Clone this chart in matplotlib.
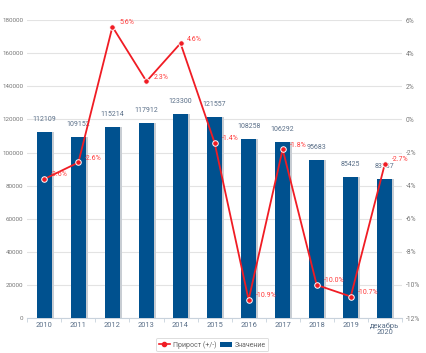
import numpy as np
import matplotlib
matplotlib.use("Agg")
import matplotlib.pyplot as plt
from matplotlib.lines import Line2D
from matplotlib.patches import Patch

plt.rcParams['font.family'] = ['Roboto', 'DejaVu Sans']

# данные
years = ["2010", "2011", "2012", "2013", "2014", "2015", "2016", "2017",
         "2018", "2019", "декабрь\n2020"]
values = [112109, 109152, 115214, 117912, 123300, 121557, 108258, 106292,
          95683, 85425, 83737]
growth = [-3.6, -2.6, 5.6, 2.3, 4.6, -1.4, -10.9, -1.8, -10.0, -10.7, -2.7]

blue = "#00518f"
red = "#f01c24"
txt = "#5a6f88"
fs = 5.0

fig = plt.figure(figsize=(4.27, 3.53), dpi=100)
ax = fig.add_axes([0.064, 0.099, 0.877, 0.844])
x = np.arange(len(years))

ax.bar(x + 0.04, values, width=0.46, color="#c8cdd3", zorder=2)
ax.bar(x, values, width=0.44, color=blue, zorder=3)
for xi, v in zip(x, values):
    ax.text(xi, v + 5500, str(v), ha="center", va="bottom", fontsize=fs,
            color=txt, zorder=6)

ax.set_xlim(-0.5, len(years) - 0.5)
ax.set_ylim(0, 180000)
ax.set_yticks(np.arange(0, 180001, 20000))
ax.set_xticks(x)
ax.set_xticklabels(years, fontsize=fs + 0.4, color=txt, linespacing=0.95)
ax.set_xticks(np.arange(-0.5, len(years)), minor=True)
ax.tick_params(axis="x", which="major", length=0, pad=3)
ax.tick_params(axis="x", which="minor", length=3, color="#c8d2dc")
ax.tick_params(axis="y", length=0, labelsize=4.5, labelcolor="#777777", pad=3)
ax.grid(axis="y", color="#e3e3e3", linewidth=0.8, zorder=0)
for s in ["top", "right", "left"]:
    ax.spines[s].set_visible(False)
ax.spines["bottom"].set_color("#c8d2dc")

ax2 = ax.twinx()
ax2.set_ylim(-12, 6)
ax2.set_yticks(np.arange(-12, 7, 2))
ax2.set_yticklabels([f"{t}%" for t in range(-12, 7, 2)])
ax2.tick_params(axis="y", length=0, labelsize=4.8, labelcolor="#777777", pad=3)
for s in ["top", "right", "left", "bottom"]:
    ax2.spines[s].set_visible(False)
ax2.plot(x, growth, color=red, linewidth=1.3, marker="o", markersize=4,
         markerfacecolor=red, markeredgecolor="white", markeredgewidth=0.7,
         zorder=5)
for xi, g in zip(x, growth):
    ax2.text(xi + 0.2, g + 0.25, f"{g:.1f}%", ha="left", va="center",
             fontsize=fs, color="#ff3b3b", zorder=6)

handles = [Line2D([0], [0], color=red, marker="o", markersize=3,
                  linewidth=1.2),
           Patch(facecolor=blue)]
leg = fig.legend(handles, ["Прирост (+/-)", "Значение"], loc="lower center",
                 bbox_to_anchor=(0.497, -0.005), ncol=2, fontsize=5,
                 frameon=True, handlelength=1.6, columnspacing=0.6,
                 handletextpad=0.4, borderpad=0.4)
leg.get_frame().set_edgecolor("#cfcfcf")
leg.get_frame().set_linewidth(0.6)
for t in leg.get_texts():
    t.set_color("#666666")

fig.savefig("out.png", dpi=100)
